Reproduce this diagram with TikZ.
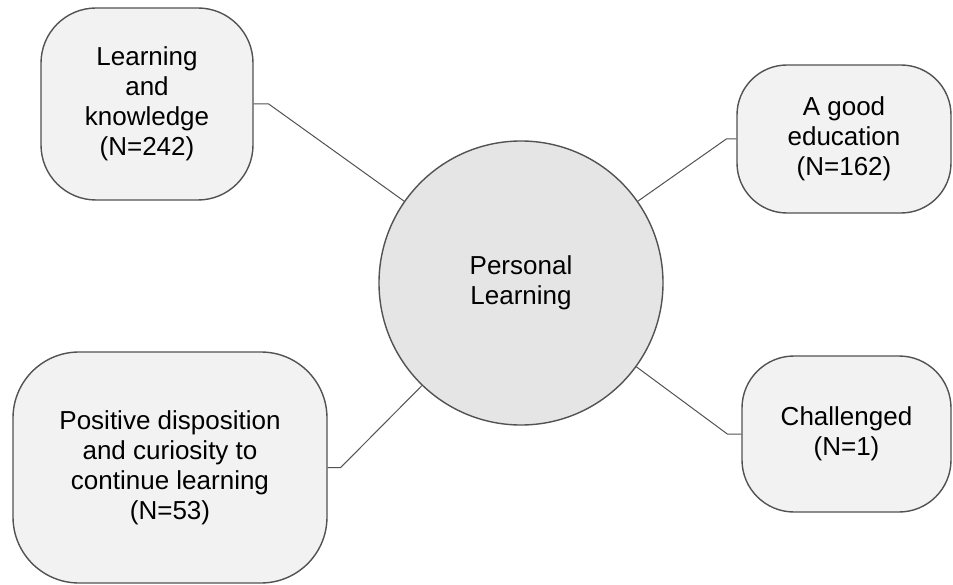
\documentclass[tikz,border=0pt]{standalone}
\usepackage{fontspec}
\setmainfont{Liberation Sans}
\begin{document}
\begin{tikzpicture}[x=1pt,y=-1pt,
  outline/.style={draw=black!68,line width=1.4pt},
  theme/.style={outline,fill=black!5,align=center,inner sep=0pt,
    font=\fontsize{26}{30}\selectfont},
  hub/.style={outline,circle,fill=black!10,align=center,inner sep=0pt,
    minimum size=284pt,font=\fontsize{26}{30}\selectfont},
  link/.style={draw=black!68,line width=1pt}]
  \useasboundingbox (0,0) rectangle (953,585);

  % central concept
  \node[hub] (c) at (521,283) {Personal\\Learning};

  % surrounding themes
  \node[theme,rounded corners=55pt,minimum width=212pt,minimum height=192pt]
    (b1) at (147,104) {Learning\\and\\knowledge\\(N=242)};
  \node[theme,rounded corners=50pt,minimum width=214pt,minimum height=148pt]
    (b2) at (844,139) {A good\\education\\(N=162)};
  \node[theme,rounded corners=66pt,minimum width=314pt,minimum height=231pt]
    (b3) at (170,467.5) {Positive disposition\\and curiosity to\\continue learning\\(N=53)};
  \node[theme,rounded corners=52pt,minimum width=209pt,minimum height=156pt]
    (b4) at (846.5,434) {Challenged\\(N=1)};

  % connectors with a short horizontal stub at each box
  \draw[link] (b1.east) -- ++(15,0) -- (c.145);
  \draw[link] (b2.west) -- ++(-10,0) -- (c.35);
  \draw[link] (b3.east) -- ++(13,0) -- (c.226);
  \draw[link] (b4.west) -- ++(-14,0) -- (c.324);
\end{tikzpicture}
\end{document}
